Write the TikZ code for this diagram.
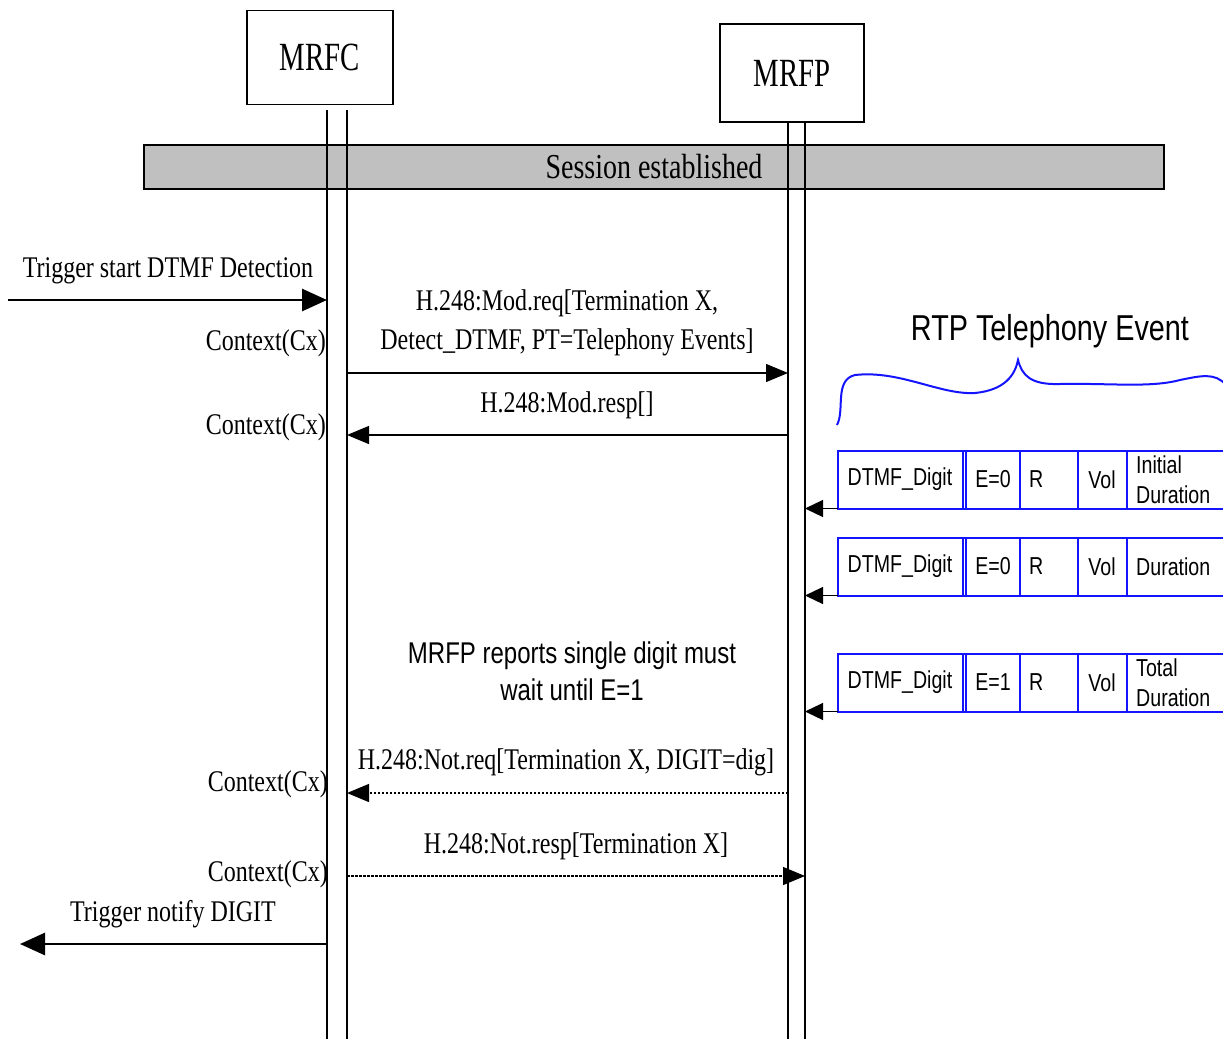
\documentclass[tikz,border=0pt]{standalone}
\usepackage{fontspec}
\setmainfont[FakeStretch=0.8]{Liberation Serif}
\setsansfont[FakeStretch=0.8]{Liberation Sans}
\newfontfamily\boxfont[FakeStretch=0.72]{Liberation Serif}
\usetikzlibrary{arrows.meta}
\definecolor{pktblue}{RGB}{20,20,255}
\definecolor{bargray}{RGB}{192,192,192}
\tikzset{
  entity/.style={draw, line width=1.2pt, minimum width=146pt, minimum height=94pt, font=\boxfont\fontsize{40}{40}\selectfont},
  life/.style={line width=1.3pt},
  msg/.style={line width=1.3pt, -{Triangle[length=22pt,width=18pt]}},
  dotmsg/.style={msg, dash pattern=on 2.5pt off 1.5pt},
  trig/.style={line width=2.8pt, -{Triangle[length=25pt,width=22pt]}},
  lbl/.style={font=\fontsize{30}{39}\selectfont, inner sep=0pt},
  pkt/.style={draw=pktblue, line width=2pt},
  cell/.style={font=\sffamily\fontsize{24.5}{30}\selectfont, inner sep=0pt},
  pktmsg/.style={line width=1.2pt, -{Triangle[length=18pt,width=17pt]}},
}
\begin{document}
\begin{tikzpicture}[x=1pt, y=1pt]
  \useasboundingbox (0,0) rectangle (1223,-1039);
  % entities
  \node[entity] (mrfc) at (320,-57.5) {MRFC};
  \node[entity, minimum width=144pt, minimum height=98pt] (mrfp) at (792,-73) {MRFP};
  \node[draw, fill=bargray, line width=1.3pt, minimum width=1020pt, minimum height=44pt, inner sep=0pt, font=\fontsize{35}{35}\selectfont] (sess) at (654,-167) {Session established};
  % lifelines
  \coordinate (lc1) at (327,-110);
  \coordinate (lc2) at (347,-110);
  \coordinate (lp1) at (788,-122);
  \coordinate (lp2) at (805,-122);
  \coordinate (bot) at (0,-1039);
  \foreach \l in {lc1,lc2,lp1,lp2} \draw[life] (\l) -- (\l |- bot);
  % trigger in
  \coordinate (src) at (8,-300);
  \draw[trig] (src) -- (lc1 |- src);
  \node[lbl] (trig1) at (168,-271) {Trigger start DTMF Detection};
  % modify
  \coordinate (y1) at (0,-373);
  \coordinate (y2) at (0,-435);
  \draw[msg] (lc2 |- y1) -- (lp1 |- y1);
  \draw[msg] (lp1 |- y2) -- (lc2 |- y2);
  \node[lbl, align=center] (modreq) at (567,-323) {H.248:Mod.req[Termination X,\\Detect\_DTMF, PT=Telephony Events]};
  \node[lbl] (modresp) at (567,-405) {H.248:Mod.resp[]};
  \node[lbl, anchor=east] (cx1) at (326,-343) {Context(Cx)};
  \node[lbl, anchor=east] (cx2) at (326,-427) {Context(Cx)};
  % rtp events
  \node[font=\sffamily\fontsize{36}{36}\selectfont, inner sep=0pt] (rtp) at (1050,-331) {RTP Telephony Event};
  \draw[pktblue, line width=2pt] (837,-425) .. controls (845,-410) and (834,-380) .. (855,-375)
    .. controls (900,-370) and (940,-395) .. (975,-393)
    .. controls (1005,-390) and (1015,-375) .. (1018,-360)
    .. controls (1022,-375) and (1030,-385) .. (1060,-384)
    .. controls (1110,-383) and (1150,-388) .. (1180,-380)
    .. controls (1200,-376) and (1215,-372) .. (1226,-385);
  \foreach \ry/\e/\dur [count=\i] in {451/0/{Initial\\Duration}, 538/0/{Duration}, 654/1/{Total\\Duration}} {
    \draw[pkt] (1223,-\ry) -- (838,-\ry) -- (838,-\ry-57.5) -- (1223,-\ry-57.5);
    \foreach \xx in {963,966,1020,1078,1127} \draw[pkt] (\xx,-\ry) -- (\xx,-\ry-57.5);
    \node[cell] (dig\i) at (900,-\ry-28.5) {DTMF\_Digit};
    \node[cell] (e\i) at (993,-\ry-28.5) {E=\e};
    \node[cell, anchor=west] (r\i) at (1029,-\ry-28.5) {R};
    \node[cell] (vol\i) at (1102,-\ry-28.5) {Vol};
    \node[cell, anchor=west, align=left] (dur\i) at (1136,-\ry-28.5) {\dur};
    \coordinate (pk\i) at (838,-\ry-57.5);
    \draw[pktmsg] (pk\i) -- (lp2 |- pk\i);
  }
  \node[font=\sffamily\fontsize{30}{37}\selectfont, inner sep=0pt, align=center] (note) at (572,-671) {MRFP reports single digit must\\wait until E=1};
  % notify
  \coordinate (y3) at (0,-793);
  \coordinate (y4) at (0,-876);
  \draw[dotmsg] (lp1 |- y3) -- (lc2 |- y3);
  \draw[dotmsg] (lc2 |- y4) -- (lp2 |- y4);
  \node[lbl] (notreq) at (566,-762) {H.248:Not.req[Termination X, DIGIT=dig]};
  \node[lbl] (notresp) at (576,-846) {H.248:Not.resp[Termination X]};
  \node[lbl, anchor=east] (cx3) at (328,-784) {Context(Cx)};
  \node[lbl, anchor=east] (cx4) at (328,-874) {Context(Cx)};
  % trigger out
  \coordinate (snk) at (20,-944);
  \draw[trig] (lc1 |- snk) -- (snk);
  \node[lbl] (trig2) at (173,-914) {Trigger notify DIGIT};
\end{tikzpicture}
\end{document}
